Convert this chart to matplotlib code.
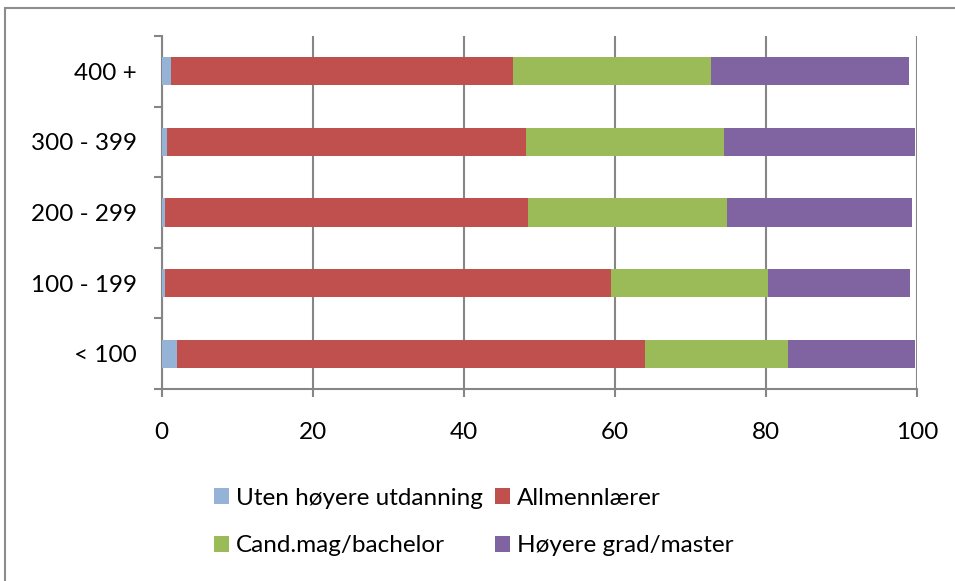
import numpy as np
import matplotlib.pyplot as plt
from matplotlib.patches import Rectangle

plt.rcParams['font.family'] = ['Lato', 'DejaVu Sans']

# school size groups, bottom to top
groups = ['< 100', '100 - 199', '200 - 299', '300 - 399', '400 +']
series = ['Uten høyere utdanning', 'Allmennlærer', 'Cand.mag/bachelor', 'Høyere grad/master']
uten = [2.0, 0.5, 0.4, 0.7, 1.3]
allmenn = [62.0, 59.0, 48.1, 47.5, 45.2]
cand = [18.9, 20.8, 26.4, 26.3, 26.2]
hoyere = [16.9, 18.8, 24.5, 25.2, 26.3]
colors = ['#95B3D7', '#C0504D', '#9BBB59', '#8064A2']

fig = plt.figure(figsize=(9.55, 5.81), dpi=100)
ax = fig.add_axes([0.1693, 0.3305, 0.7907, 0.6075])

y = np.arange(len(groups))
left = np.zeros(len(groups))
for vals, lab, col in zip([uten, allmenn, cand, hoyere], series, colors):
    ax.barh(y, vals, left=left, height=0.4, color=col, label=lab, zorder=3)
    left += np.array(vals)

grid_col = '#868686'
fs = 17.5
ax.set_xlim(0, 100)
ax.set_ylim(-0.5, 4.5)
ax.set_xticks(range(0, 101, 20))
ax.xaxis.grid(True, color=grid_col, linewidth=1.5, zorder=0)
ax.set_yticks(y)
ax.set_yticklabels(groups)
ax.set_yticks(np.arange(-0.5, 4.6, 1), minor=True)
ax.tick_params(axis='y', which='major', length=0, pad=18, labelsize=fs)
ax.tick_params(axis='y', which='minor', length=6, width=1.5, color=grid_col)
ax.tick_params(axis='x', length=6, width=1.5, color=grid_col, pad=18, labelsize=fs)
for s in ['top', 'right']:
    ax.spines[s].set_visible(False)
for s in ['left', 'bottom']:
    ax.spines[s].set_color(grid_col)
    ax.spines[s].set_linewidth(1.5)

# legend reads row by row
handles, labels = ax.get_legend_handles_labels()
order = [0, 2, 1, 3]
fig.legend([handles[i] for i in order], [labels[i] for i in order],
           ncol=2, loc='center', frameon=False,
           bbox_to_anchor=(474 / 955, 1 - 522 / 581), fontsize=fs,
           handlelength=0.6, handleheight=0.6, handletextpad=0.3,
           columnspacing=0.5, labelspacing=1.1)

# chart border
fig.patches.append(Rectangle((5 / 955, -0.1), 1.2, 1 - 8 / 581 + 0.1,
                             transform=fig.transFigure, fill=False,
                             edgecolor='#8c8c8c', linewidth=1.5))

fig.savefig('out.png', dpi=100)
